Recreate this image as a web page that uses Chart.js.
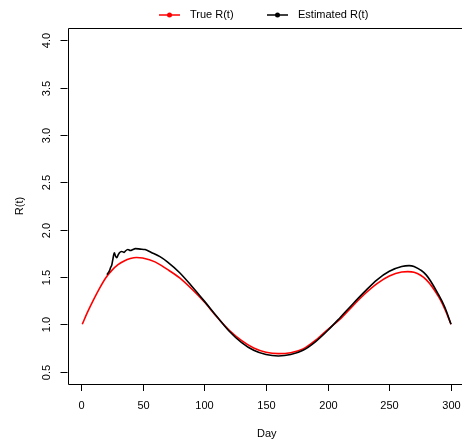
<!DOCTYPE html>
<html>
<head>
<meta charset="utf-8">
<script src="https://cdn.jsdelivr.net/npm/chart.js@4"></script>
<style>
  html, body { margin: 0; padding: 0; background: #fff; overflow: hidden; }
  .chart-container { width: 462px; height: 441px; }
</style>
</head>
<body>
<div class="chart-container"><canvas id="plot" width="462" height="441"></canvas></div>
<script>
// True R(t)
const trueDays = [1, 5, 10, 15, 20, 25, 30, 35, 40, 45, 50, 60, 70, 80, 90, 100, 110, 120, 130, 140,
  150, 160, 170, 180, 190, 200, 210, 220, 230, 240, 250, 260, 265, 270, 280, 290, 295, 300];
const trueValues = [1.0, 1.12, 1.255, 1.38, 1.49, 1.57, 1.63, 1.67, 1.695, 1.706, 1.7, 1.66, 1.58, 1.49,
  1.37, 1.235, 1.08, 0.94, 0.83, 0.75, 0.705, 0.69, 0.7, 0.74, 0.83, 0.945, 1.055, 1.19, 1.32, 1.43,
  1.51, 1.553, 1.557, 1.55, 1.47, 1.29, 1.16, 1.0];

// Estimated R(t)
const estDays = [21, 23, 24, 25, 26, 27, 28, 29, 30, 31, 33, 35, 36, 38, 40, 42, 44, 48, 52, 57, 64, 70,
  80, 90, 100, 110, 120, 130, 140, 150, 160, 170, 180, 190, 200, 210, 220, 230, 240, 250, 260, 266,
  270, 280, 290, 295, 300];
const estValues = [1.525, 1.565, 1.6, 1.63, 1.7, 1.755, 1.72, 1.705, 1.73, 1.755, 1.77, 1.76, 1.775, 1.79,
  1.78, 1.79, 1.8, 1.795, 1.79, 1.76, 1.715, 1.66, 1.545, 1.4, 1.245, 1.085, 0.93, 0.81, 0.725, 0.68,
  0.665, 0.68, 0.725, 0.815, 0.935, 1.07, 1.21, 1.345, 1.47, 1.56, 1.61, 1.62, 1.61, 1.52, 1.31, 1.18, 1.0];

const xTicks = [0, 50, 100, 150, 200, 250, 300];
const yTicks = [0.5, 1.0, 1.5, 2.0, 2.5, 3.0, 3.5, 4.0];

const seriesNames = ["True R(t)", "Estimated R(t)"];
const seriesColors = ["#ff0000", "#000000"];

const FONT = "11px 'Liberation Sans', Arial, sans-serif";

const toPoints = (xs, ys) => xs.map((x, i) => ({ x: x, y: ys[i] }));

// axes, box and legend in base-graphics style
const rAxes = {
  id: "rAxes",
  afterDraw(chart) {
    const ctx = chart.ctx;
    const area = chart.chartArea;
    const xs = chart.scales.x;
    const ys = chart.scales.y;
    ctx.save();
    ctx.strokeStyle = "#000";
    ctx.fillStyle = "#000";
    ctx.lineWidth = 1;
    ctx.font = FONT;

    // box (right side runs off the canvas)
    ctx.beginPath();
    ctx.moveTo(area.right, Math.round(area.top) + 0.5);
    ctx.lineTo(Math.round(area.left) + 0.5, Math.round(area.top) + 0.5);
    ctx.lineTo(Math.round(area.left) + 0.5, Math.round(area.bottom) + 0.5);
    ctx.lineTo(area.right, Math.round(area.bottom) + 0.5);
    ctx.stroke();

    // x axis
    ctx.textAlign = "center";
    ctx.textBaseline = "middle";
    xTicks.forEach((t) => {
      const px = Math.round(xs.getPixelForValue(t)) + 0.5;
      ctx.beginPath();
      ctx.moveTo(px, area.bottom);
      ctx.lineTo(px, area.bottom + 7);
      ctx.stroke();
      ctx.fillText(String(t), px, area.bottom + 22);
    });
    ctx.fillText("Day", (area.left + 466) / 2, 434);

    // y axis
    yTicks.forEach((t) => {
      const py = Math.round(ys.getPixelForValue(t)) + 0.5;
      ctx.beginPath();
      ctx.moveTo(area.left - 7, py);
      ctx.lineTo(area.left, py);
      ctx.stroke();
      ctx.save();
      ctx.translate(area.left - 21, py);
      ctx.rotate(-Math.PI / 2);
      ctx.fillText(t.toFixed(1), 0, 0);
      ctx.restore();
    });
    ctx.save();
    ctx.translate(20, (area.top + area.bottom) / 2);
    ctx.rotate(-Math.PI / 2);
    ctx.fillText("R(t)", 0, 0);
    ctx.restore();

    // legend
    const legendX = [159, 267];
    ctx.textAlign = "left";
    seriesNames.forEach((name, i) => {
      const x0 = legendX[i];
      ctx.strokeStyle = seriesColors[i];
      ctx.fillStyle = seriesColors[i];
      ctx.lineWidth = 1.5;
      ctx.beginPath();
      ctx.moveTo(x0, 15);
      ctx.lineTo(x0 + 21, 15);
      ctx.stroke();
      ctx.beginPath();
      ctx.arc(x0 + 10.5, 15, 2.5, 0, Math.PI * 2);
      ctx.fill();
      ctx.fillStyle = "#000";
      ctx.fillText(name, x0 + 31, 15);
    });
    ctx.restore();
  },
};

new Chart(document.querySelector("#plot").getContext("2d"), {
  type: "line",
  data: {
    datasets: [
      {
        label: seriesNames[1],
        data: toPoints(estDays, estValues),
        borderColor: seriesColors[1],
        borderWidth: 1.6,
        pointRadius: 0,
        cubicInterpolationMode: "monotone",
        order: 0,
      },
      {
        label: seriesNames[0],
        data: toPoints(trueDays, trueValues),
        borderColor: seriesColors[0],
        borderWidth: 1.6,
        pointRadius: 0,
        cubicInterpolationMode: "monotone",
        order: 1,
      },
    ],
  },
  options: {
    responsive: false,
    animation: false,
    events: [],
    layout: { padding: { left: 67.5, top: 28, right: 0, bottom: 57 } },
    plugins: { legend: { display: false }, tooltip: { enabled: false } },
    scales: {
      x: { type: "linear", min: -10.96, max: 308.9, display: false },
      y: { type: "linear", min: 0.369, max: 4.132, display: false },
    },
  },
  plugins: [rAxes],
});
</script>
</body>
</html>
